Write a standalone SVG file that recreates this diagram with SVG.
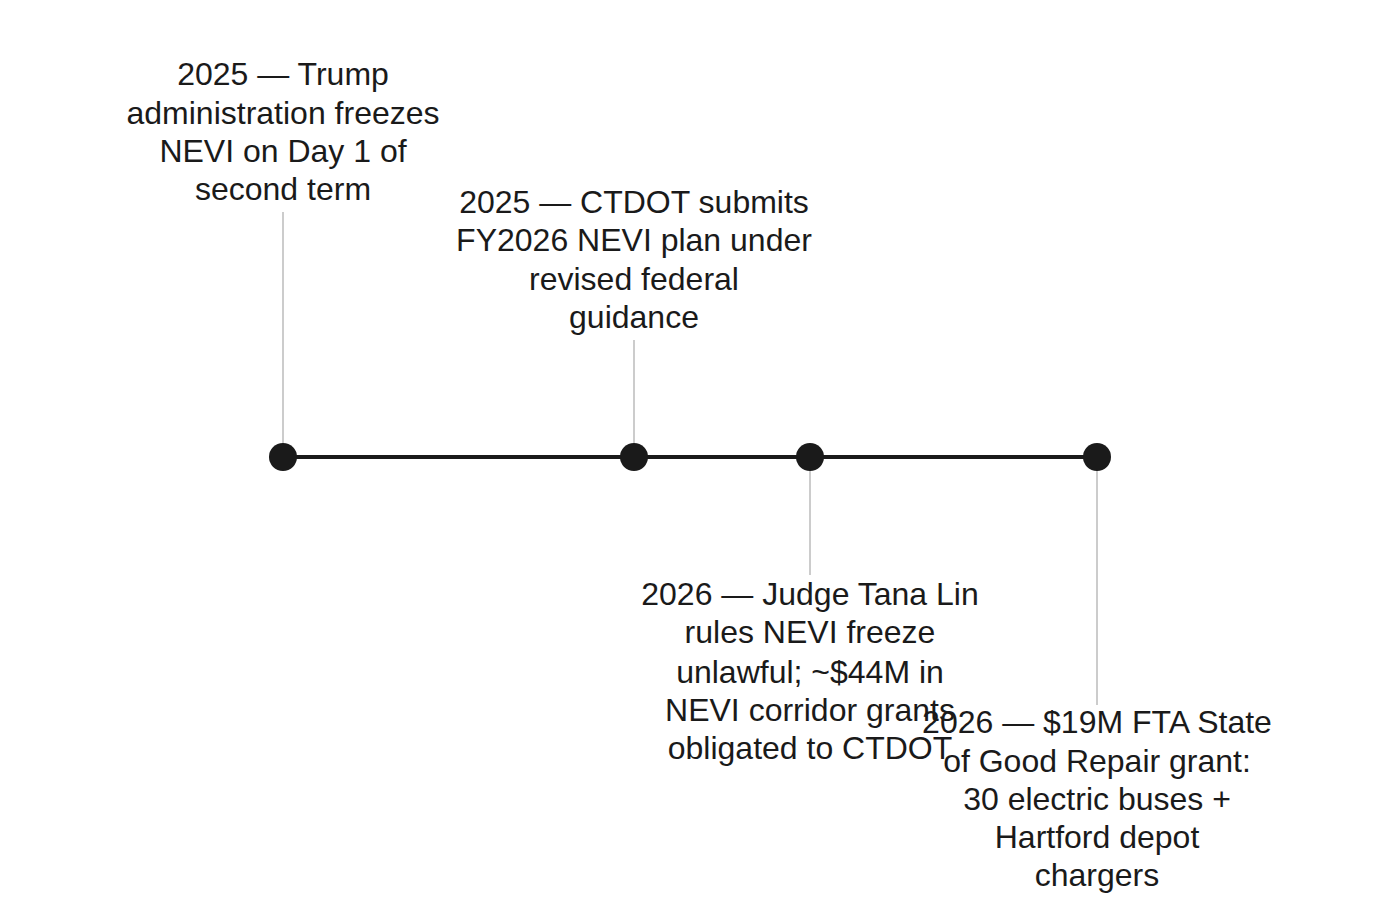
<svg xmlns="http://www.w3.org/2000/svg" width="1380" height="915" viewBox="0 0 1380 915">
<style>
text{font-family:"Liberation Sans",Arial,sans-serif;font-size:32px;fill:#1a1a1a;text-anchor:middle}
.stem{stroke:#cccccc;stroke-width:2}
.dot{fill:#1a1a1a}
</style>
<rect width="1380" height="915" fill="#fff"/>
<g id="connectors">
<line x1="283" y1="457" x2="1097" y2="457" stroke="#1a1a1a" stroke-width="4"/>
<line class="stem" x1="283" y1="212" x2="283" y2="457"/>
<line class="stem" x1="634" y1="340" x2="634" y2="457"/>
<line class="stem" x1="810" y1="457" x2="810" y2="575"/>
<line class="stem" x1="1097" y1="457" x2="1097" y2="705"/>
</g>
<g id="n1"><circle class="dot" cx="283" cy="457" r="14"/>
<text x="283" y="85">2025 — Trump</text><text x="283" y="124">administration freezes</text><text x="283" y="162">NEVI on Day 1 of</text><text x="283" y="200">second term</text></g>
<g id="n2"><circle class="dot" cx="634" cy="457" r="14"/>
<text x="634" y="213">2025 — CTDOT submits</text><text x="634" y="251">FY2026 NEVI plan under</text><text x="634" y="290">revised federal</text><text x="634" y="328">guidance</text></g>
<g id="n3"><circle class="dot" cx="810" cy="457" r="14"/>
<text x="810" y="605">2026 — Judge Tana Lin</text><text x="810" y="643">rules NEVI freeze</text><text x="810" y="683">unlawful; ~$44M in</text><text x="810" y="721">NEVI corridor grants</text><text x="810" y="759">obligated to CTDOT</text></g>
<g id="n4"><circle class="dot" cx="1097" cy="457" r="14"/>
<text x="1097" y="733">2026 — $19M FTA State</text><text x="1097" y="772">of Good Repair grant:</text><text x="1097" y="810">30 electric buses +</text><text x="1097" y="848">Hartford depot</text><text x="1097" y="886">chargers</text></g>
</svg>
